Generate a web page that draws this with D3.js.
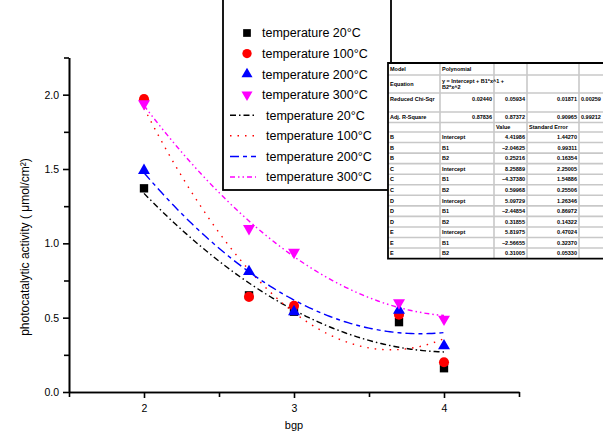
<!DOCTYPE html>
<html>
<head>
<meta charset="utf-8">
<script src="https://cdn.jsdelivr.net/npm/d3@7"></script>
<style>
  body { margin: 0; background: #fff; }
  svg { display: block; font-family: "Liberation Sans", Arial, sans-serif; }
</style>
</head>
<body>
<div id="chart"></div>
<script>
// data
var bgp = [2, 2.7, 3, 3.7, 4];
var act20 = [1.37, 0.65, 0.54, 0.47, 0.16];
var act100 = [1.97, 0.64, 0.58, 0.52, 0.20];
var act200 = [1.49, 0.81, 0.54, 0.55, 0.31];
var act300 = [1.94, 1.10, 0.94, 0.60, 0.49];
var labels = ["temperature 20°C", "temperature 100°C", "temperature 200°C", "temperature 300°C"];
var xTicks = [2, 3, 4];
var yTicks = [0, 0.5, 1.0, 1.5, 2.0];

var width = 603, height = 438;

var x = d3.scaleLinear().domain([1.5, 4.5]).range([69, 519]);
var y = d3.scaleLinear().domain([0, 2.25]).range([392, 57.5]);

var colors = ["#000000", "#ff0000", "#0000ff", "#ff00ff"];
var dashes = ["6,3,1.5,3", "1.5,6", "9,4,4,4", "5,3,1.5,3,1.5,3"];
var shapes = [d3.symbolSquare, d3.symbolCircle, d3.symbolTriangle, d3.symbolTriangle];
var rotate = [0, 0, 0, 180];
var sizes = [70, 80, 62, 62];

var svg = d3.select("#chart").append("svg")
    .attr("width", width)
    .attr("height", height)

var series = [act20, act100, act200, act300].map(function (v, i) {
    return { name: labels[i], values: v, fit: polyFit(bgp, v) }
})

// quadratic least squares, like the origin fit
function polyFit(xs, ys) {
    var n = xs.length, S = [[0,0,0],[0,0,0],[0,0,0]], T = [0,0,0];
    xs.forEach(function (xv, k) {
        var r = [1, xv, xv * xv];
        for (var i = 0; i < 3; i++) {
            T[i] += r[i] * ys[k];
            for (var j = 0; j < 3; j++) S[i][j] += r[i] * r[j];
        }
    })
    var inv = invert3(S);
    var b = [0,1,2].map(function (i) { return inv[i][0]*T[0] + inv[i][1]*T[1] + inv[i][2]*T[2] });
    var rss = 0, mean = d3.mean(ys), sst = 0;
    xs.forEach(function (xv, k) {
        var e = ys[k] - (b[0] + b[1]*xv + b[2]*xv*xv);
        rss += e * e;
        sst += (ys[k] - mean) * (ys[k] - mean);
    })
    var chi = rss / (n - 3);
    return {
        b: b,
        se: [0,1,2].map(function (i) { return Math.sqrt(chi * inv[i][i]) }),
        chi: chi,
        adj: 1 - chi / (sst / (n - 1))
    }
}

function invert3(m) {
    var a = m[0][0], b = m[0][1], c = m[0][2],
        d = m[1][0], e = m[1][1], f = m[1][2],
        g = m[2][0], h = m[2][1], k = m[2][2];
    var A = e*k - f*h, B = -(d*k - f*g), C = d*h - e*g;
    var det = a*A + b*B + c*C;
    return [
        [A/det, -(b*k - c*h)/det, (b*f - c*e)/det],
        [B/det, (a*k - c*g)/det, -(a*f - c*d)/det],
        [C/det, -(a*h - b*g)/det, (a*e - b*d)/det]
    ]
}

// axes
var yAxis = svg.append("g").attr("transform", "translate(" + x(1.5) + ",0)")
    .call(d3.axisLeft(y).tickValues(yTicks).tickFormat(d3.format(".1f")).tickSize(6).tickSizeOuter(0));
svg.append("g").attr("transform", "translate(" + x(1.5) + ",0)")
    .call(d3.axisLeft(y).tickValues([0.25, 0.75, 1.25, 1.75, 2.25]).tickFormat("").tickSize(5).tickSizeOuter(0));
var xAxis = svg.append("g").attr("transform", "translate(0," + y(0) + ")")
    .call(d3.axisBottom(x).tickValues(xTicks).tickFormat(d3.format("d")).tickSize(6).tickSizeOuter(0));
svg.append("g").attr("transform", "translate(0," + y(0) + ")")
    .call(d3.axisBottom(x).tickValues([1.5, 2.5, 3.5, 4.5]).tickFormat("").tickSize(5).tickSizeOuter(0));

svg.selectAll(".domain, .tick line").attr("stroke", "#000").attr("stroke-width", 1.6);
yAxis.selectAll("text").attr("font-size", 10.5).attr("fill", "#000").attr("dx", -1);
xAxis.selectAll("text").attr("font-size", 10.5).attr("fill", "#000").attr("dy", "1em");

svg.append("text")
    .attr("transform", "translate(29,247) rotate(-90)")
    .attr("text-anchor", "middle")
    .attr("font-size", 12)
    .text("photocatalytic activity ( μmol/cm²)");
svg.append("text")
    .attr("x", 294).attr("y", 429)
    .attr("text-anchor", "middle")
    .attr("font-size", 11)
    .text("bgp");

// fitted curves
var line = d3.line().x(function (d) { return x(d[0]) }).y(function (d) { return y(d[1]) });
var xs = d3.range(2, 4.0001, 0.02);
svg.selectAll(".fit")
    .data(series).enter().append("path")
    .attr("class", "fit")
    .attr("fill", "none")
    .attr("stroke", function (d, i) { return colors[i] })
    .attr("stroke-width", 1.4)
    .attr("stroke-dasharray", function (d, i) { return dashes[i] })
    .attr("d", function (d) {
        var b = d.fit.b;
        return line(xs.map(function (v) { return [v, b[0] + b[1]*v + b[2]*v*v] }))
    });

// points
series.forEach(function (s, i) {
    svg.selectAll(".pt" + i)
        .data(s.values).enter().append("path")
        .attr("d", d3.symbol().type(shapes[i]).size(sizes[i]))
        .attr("fill", colors[i])
        .attr("transform", function (d, k) {
            return "translate(" + x(bgp[k]) + "," + y(d) + ") rotate(" + rotate[i] + ")"
        });
})

// legend
var lg = svg.append("g");
lg.append("rect").attr("x", 223).attr("y", -2).attr("width", 168).attr("height", 192)
    .attr("fill", "#fff").attr("stroke", "#000").attr("stroke-width", 1.8);
var rowY = d3.scalePoint().domain(d3.range(8)).range([33, 177]);
series.forEach(function (s, i) {
    lg.append("path")
        .attr("d", d3.symbol().type(shapes[i]).size(sizes[i] * 0.85))
        .attr("fill", colors[i])
        .attr("transform", "translate(247," + rowY(i) + ") rotate(" + rotate[i] + ")");
    lg.append("text").attr("x", 262).attr("y", rowY(i)).attr("dy", "0.35em")
        .attr("font-size", 12.5).text(s.name);
    lg.append("line")
        .attr("x1", 230).attr("x2", 256).attr("y1", rowY(i + 4)).attr("y2", rowY(i + 4))
        .attr("stroke", colors[i]).attr("stroke-width", 1.5)
        .attr("stroke-dasharray", dashes[i]);
    lg.append("text").attr("x", 266).attr("y", rowY(i + 4)).attr("dy", "0.35em")
        .attr("font-size", 12.5).text(s.name);
})

// fit report table
var colX = [388, 440, 494, 527, 579, 640];
var rowLines = [63, 75, 93, 112, 122.5, 132];
for (var r = 1; r <= 12; r++) rowLines.push(132 + r * 10.55);
var tb = svg.append("g").attr("font-size", 5.5).attr("font-weight", "bold");
tb.append("rect").attr("x", colX[0]).attr("y", rowLines[0]).attr("width", 230)
    .attr("height", rowLines[rowLines.length - 1] - rowLines[0]).attr("fill", "#fff");
tb.selectAll(".hl").data(rowLines.slice(1, -1)).enter().append("line")
    .attr("x1", colX[0]).attr("x2", 610).attr("y1", function (d) { return d }).attr("y2", function (d) { return d })
    .attr("stroke", "#c8c8c8").attr("stroke-width", 1.6);
tb.selectAll(".vl").data(colX.slice(1, -1)).enter().append("line")
    .attr("x1", function (d) { return d }).attr("x2", function (d) { return d })
    .attr("y1", rowLines[0]).attr("y2", rowLines[rowLines.length - 1])
    .attr("stroke", "#c8c8c8").attr("stroke-width", 1.6);
tb.append("path")
    .attr("d", "M610," + rowLines[0] + "H" + colX[0] + "V" + rowLines[rowLines.length - 1] + "H610")
    .attr("fill", "none").attr("stroke", "#000").attr("stroke-width", 1.8);

function cell(c, r, txt, right, dy) {
    tb.append("text")
        .attr("x", right ? colX[c + 1] - 2 : colX[c] + 2)
        .attr("y", (rowLines[r] + rowLines[r + 1]) / 2 + (dy || 0))
        .attr("dy", "0.35em")
        .attr("text-anchor", right ? "end" : "start")
        .text(txt);
}
var f = d3.format(".5f");
cell(0, 0, "Model"); cell(1, 0, "Polynomial");
cell(0, 1, "Equation"); cell(1, 1, "y = Intercept + B1*x^1 +", false, -3); cell(1, 1, "B2*x^2", false, 3);
cell(0, 2, "Reduced Chi-Sqr", false, -3);
cell(0, 3, "Adj. R-Square");
series.forEach(function (s, i) {
    // last column runs off the page edge, so keep its text at the left of the cell
    var right = i < 3;
    cell(i + 1, 2, f(s.fit.chi), right, -3);
    cell(i + 1, 3, f(s.fit.adj), right);
})
cell(2, 4, "Value"); cell(3, 4, "Standard Error");
var dsNames = ["B", "C", "D", "E"], parNames = ["Intercept", "B1", "B2"];
series.forEach(function (s, i) {
    [0, 1, 2].forEach(function (j) {
        var r = 5 + i * 3 + j;
        cell(0, r, dsNames[i]);
        cell(1, r, parNames[j]);
        cell(2, r, f(s.fit.b[j]), true);
        cell(3, r, f(s.fit.se[j]), true);
    })
})
</script>
</body>
</html>
